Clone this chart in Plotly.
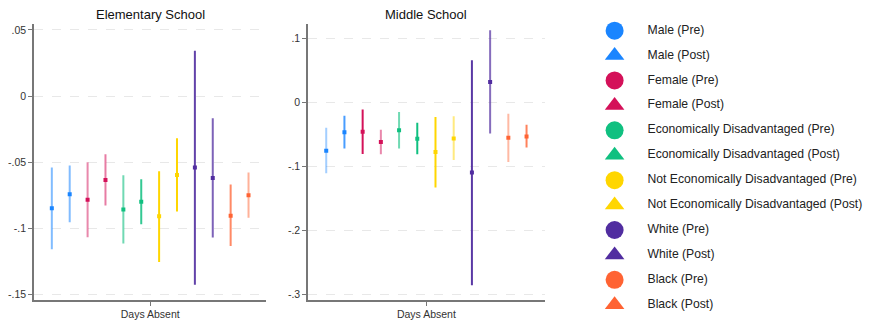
import plotly.graph_objects as go

groups = ["Male (Pre)", "Male (Post)", "Female (Pre)", "Female (Post)",
          "Economically Disadvantaged (Pre)", "Economically Disadvantaged (Post)",
          "Not Economically Disadvantaged (Pre)", "Not Economically Disadvantaged (Post)",
          "White (Pre)", "White (Post)", "Black (Pre)", "Black (Post)"]
colors_rgb = [(26, 133, 255), (26, 133, 255), (212, 17, 89), (212, 17, 89),
              (16, 192, 128), (16, 192, 128), (255, 214, 0), (255, 214, 0),
              (81, 45, 160), (81, 45, 160), (255, 99, 51), (255, 99, 51)]

# Elementary School estimates and CI bounds
elem_est = [-0.0848, -0.0743, -0.0785, -0.0635, -0.0858, -0.0800,
            -0.0910, -0.0598, -0.0540, -0.0620, -0.0905, -0.0750]
elem_hi = [-0.0540, -0.0525, -0.0500, -0.0440, -0.0600, -0.0630,
           -0.0568, -0.0320, 0.0343, -0.0168, -0.0670, -0.0578]
elem_lo = [-0.1158, -0.0955, -0.1068, -0.0828, -0.1115, -0.0970,
           -0.1255, -0.0873, -0.1428, -0.1070, -0.1135, -0.0920]
elem_alpha = [0.55, 0.55, 0.5, 0.55, 0.6, 0.85, 1.0, 1.0, 0.9, 0.75, 0.75, 0.5]

# Middle School estimates and CI bounds
mid_est = [-0.0756, -0.0466, -0.0461, -0.0622, -0.0435, -0.0570,
           -0.0777, -0.0565, -0.1098, 0.0316, -0.0554, -0.0534]
mid_hi = [-0.0399, -0.0212, -0.0114, -0.0430, -0.0150, -0.0321,
          -0.0228, -0.0218, 0.0658, 0.1124, -0.0181, -0.0352]
mid_lo = [-0.1109, -0.0720, -0.0808, -0.0813, -0.0720, -0.0813,
          -0.1332, -0.0902, -0.2855, -0.0487, -0.0933, -0.0705]
mid_alpha = [0.4, 0.8, 1.0, 0.5, 0.6, 1.0, 1.0, 0.5, 0.95, 0.7, 0.45, 0.8]

elem_ticks = [0.05, 0, -0.05, -0.1, -0.15]
elem_ticktext = [".05", "0", "-.05", "-.1", "-.15"]
mid_ticks = [0.1, 0, -0.1, -0.2, -0.3]
mid_ticktext = [".1", "0", "-.1", "-.2", "-.3"]

xcat = "Days Absent"
n = len(groups)
offsets = [i - (n - 1) / 2 for i in range(n)]

fig = go.Figure()

def add_panel(est, hi, lo, alpha, xa, ya):
    for i in range(n):
        r, g, b = colors_rgb[i]
        fig.add_trace(go.Scatter(
            x=[offsets[i]], y=[est[i]], mode="markers",
            marker=dict(symbol="square", size=4, color=f"rgb({r},{g},{b})"),
            error_y=dict(type="data", symmetric=False,
                         array=[hi[i] - est[i]], arrayminus=[est[i] - lo[i]],
                         color=f"rgba({r},{g},{b},{alpha[i]})", thickness=2, width=0),
            xaxis=xa, yaxis=ya, showlegend=False, hoverinfo="skip"))

add_panel(elem_est, elem_hi, elem_lo, elem_alpha, "x", "y")
add_panel(mid_est, mid_hi, mid_lo, mid_alpha, "x2", "y2")

# Legend panel
symbols = ["circle" if "(Pre)" in gname else "triangle-up" for gname in groups]
for i in range(n):
    r, g, b = colors_rgb[i]
    fig.add_trace(go.Scatter(
        x=[0], y=[i], mode="markers", cliponaxis=False,
        marker=dict(symbol=symbols[i], size=18 if symbols[i] == "circle" else 17,
                    color=f"rgb({r},{g},{b})", line=dict(width=0)),
        xaxis="x3", yaxis="y3", showlegend=False, hoverinfo="skip"))
fig.add_trace(go.Scatter(
    x=[33] * n, y=list(range(n)), mode="text", text=groups, cliponaxis=False,
    textposition="middle right",
    textfont=dict(family="Liberation Sans, Arial", size=12.2, color="#222"),
    xaxis="x3", yaxis="y3", showlegend=False, hoverinfo="skip"))

# page body has an 8px margin: work in reference pixels, shifted by OFF
OFF = 8
W, H = 874 - OFF, 320 - OFF

def px(xr):
    return (xr - OFF) / W

def py(yr):
    return 1 - (yr - OFF) / H

ydom = [py(301), py(24)]
axis_common = dict(showline=True, linecolor="#777", linewidth=1.5, ticks="outside",
                   ticklen=4, tickcolor="#777", zeroline=False,
                   tickfont=dict(family="Liberation Sans, Arial", size=10.5, color="#333"))
xcommon = dict(axis_common, range=[-6.5, 6.5], tickvals=[0], ticktext=[xcat], showgrid=False)
ycommon = dict(axis_common, showgrid=True, gridcolor="#e8e8e8", griddash="dash", gridwidth=1)

rows_top = 30.7
row_gap = 25

fig.update_layout(
    width=W, height=H, margin=dict(l=0, r=0, t=0, b=0),
    plot_bgcolor="white", paper_bgcolor="white",
    xaxis=dict(xcommon, domain=[px(32), px(265)], anchor="y"),
    yaxis=dict(ycommon, domain=ydom, range=[-0.1543, 0.0545], tickvals=elem_ticks,
               ticktext=elem_ticktext, anchor="x"),
    xaxis2=dict(xcommon, domain=[px(306.7), px(544)], anchor="y2"),
    yaxis2=dict(ycommon, domain=ydom, range=[-0.3088, 0.1223], tickvals=mid_ticks,
                ticktext=mid_ticktext, anchor="x2"),
    xaxis3=dict(domain=[px(600), 1], range=[-14, 874 - 614], visible=False),
    yaxis3=dict(domain=[0, 1], range=[(320 - rows_top) / row_gap, (OFF - rows_top) / row_gap],
                visible=False, anchor="x3"),
    annotations=[
        dict(text="Elementary School", x=px((32 + 265) / 2), y=py(15), xref="paper",
             yref="paper", showarrow=False, xanchor="center", yanchor="middle",
             font=dict(family="Liberation Sans, Arial", size=13, color="#111")),
        dict(text="Middle School", x=px((306.7 + 544) / 2), y=py(15), xref="paper",
             yref="paper", showarrow=False, xanchor="center", yanchor="middle",
             font=dict(family="Liberation Sans, Arial", size=13, color="#111")),
    ],
)

fig.write_html("out.html")
